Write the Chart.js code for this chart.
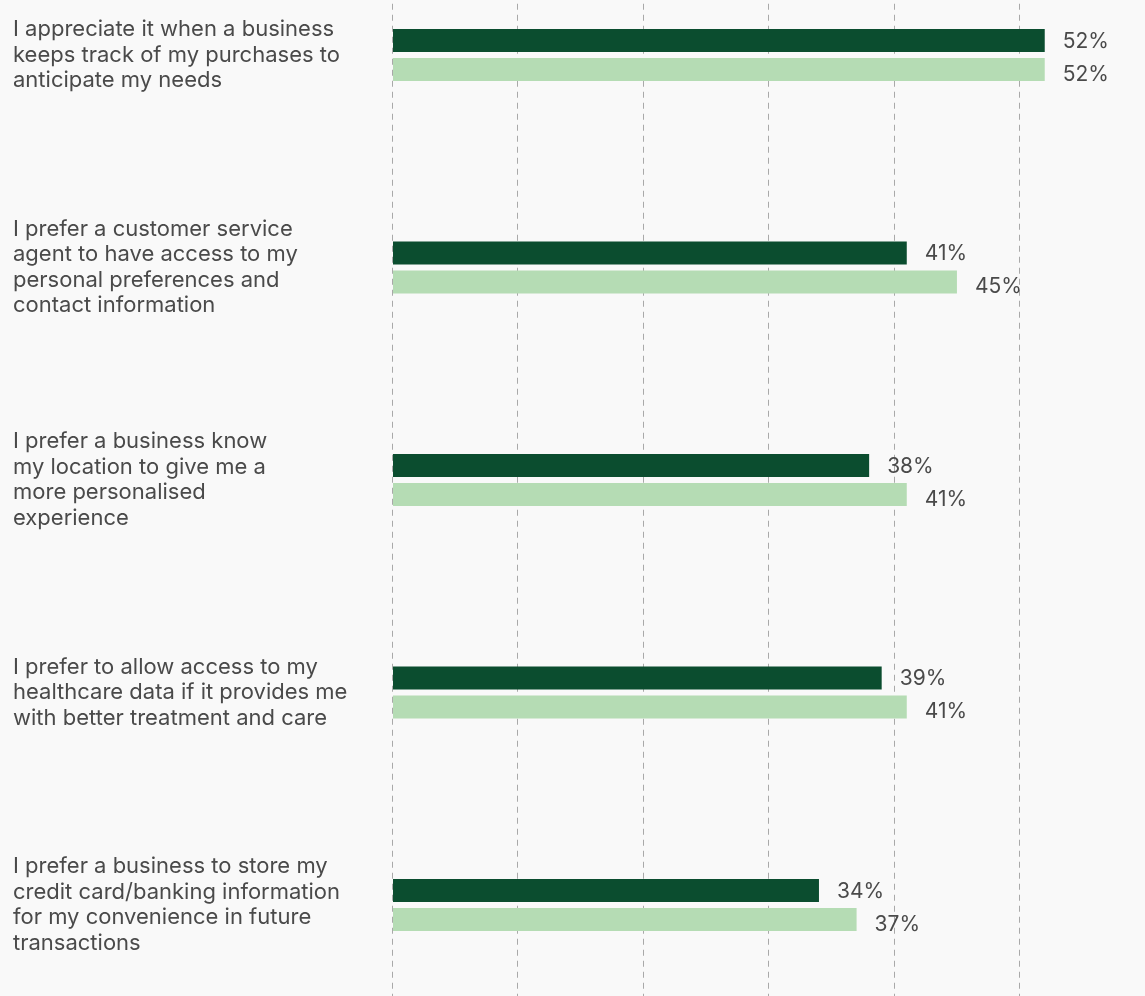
<!DOCTYPE html>
<html>
<head>
<meta charset="utf-8">
<script src="https://cdn.jsdelivr.net/npm/chart.js@4.4.1/dist/chart.umd.min.js"></script>
<style>
  html, body { margin: 0; padding: 0; background: #f9f9f9; overflow: hidden; width: 1145px; height: 996px; }
  #wrap { position: absolute; left: 0; top: -60px; width: 1145px; height: 1080px; }
</style>
</head>
<body>
<div id="wrap"><canvas id="chart"></canvas></div>
<script>
// Statements (wrapped over several lines each)
const categories = [
  ['I appreciate it when a business', 'keeps track of my purchases to', 'anticipate my needs'],
  ['I prefer a customer service', 'agent to have access to my', 'personal preferences and', 'contact information'],
  ['I prefer a business know', 'my location to give me a', 'more personalised', 'experience'],
  ['I prefer to allow access to my', 'healthcare data if it provides me', 'with better treatment and care'],
  ['I prefer a business to store my', 'credit card/banking information', 'for my convenience in future', 'transactions']
];

// Share agreeing (%)
const darkValues = [52, 41, 38, 39, 34];
const lightValues = [52, 45, 41, 41, 37];

// Vertical guide lines every 10 points
const gridSteps = [0, 10, 20, 30, 40, 50];

const TEXT = '#4a4a4a';
const FONT = 'Inter, "Noto Sans", sans-serif';

const valueLabels = {
  id: 'valueLabels',
  afterDatasetsDraw(chart) {
    const ctx = chart.ctx;
    ctx.save();
    ctx.font = '400 21px ' + FONT;
    ctx.fillStyle = TEXT;
    ctx.textAlign = 'left';
    ctx.textBaseline = 'middle';
    chart.data.datasets.forEach((ds, di) => {
      chart.getDatasetMeta(di).data.forEach((bar, i) => {
        ctx.fillText(ds.data[i] + '%', bar.x + 18, bar.y + (di === 0 ? 1 : 5));
      });
    });
    ctx.restore();
  }
};

new Chart(document.getElementById('chart'), {
  type: 'bar',
  data: {
    labels: categories,
    datasets: [
      { label: 'Series 1', data: darkValues, backgroundColor: '#0b4d2f', categoryPercentage: 0.273, barPercentage: 0.793 },
      { label: 'Series 2', data: lightValues, backgroundColor: '#b5dcb4', categoryPercentage: 0.273, barPercentage: 0.793 }
    ]
  },
  options: {
    indexAxis: 'y',
    responsive: true,
    maintainAspectRatio: false,
    devicePixelRatio: 1,
    animation: false,
    layout: { padding: { left: 13, right: 25, top: 8.75, bottom: 8.75 } },
    plugins: {
      legend: { display: false },
      tooltip: { enabled: false }
    },
    scales: {
      x: {
        type: 'linear',
        min: 0,
        max: 58,
        afterBuildTicks(scale) {
          scale.ticks = gridSteps.map(v => ({ value: v }));
        },
        ticks: { display: false },
        grid: { color: '#a9a9a9', lineWidth: 1, drawTicks: false },
        border: { display: false, dash: [6, 5] }
      },
      y: {
        type: 'category',
        afterFit(scale) {
          scale.width = 379.5;
          // labels sit inside their bands, so no overflow room is needed
          scale.paddingTop = 0;
          scale.paddingBottom = 0;
        },
        ticks: {
          autoSkip: false,
          crossAlign: 'far',
          color: TEXT,
          font: { family: FONT, size: 22, lineHeight: 1.16 }
        },
        grid: { display: false },
        border: { display: false }
      }
    }
  },
  plugins: [valueLabels]
});
</script>
</body>
</html>
